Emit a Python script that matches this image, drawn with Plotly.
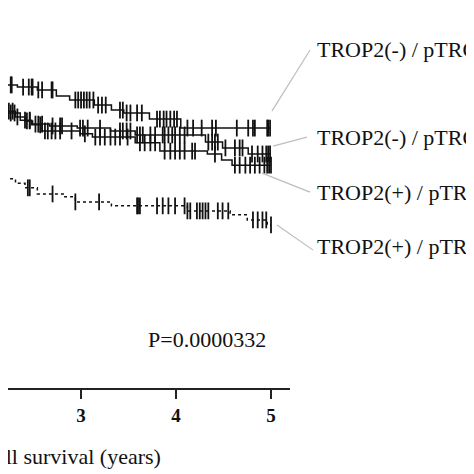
import numpy as np
import plotly.graph_objects as go

# step curves: (time in years, survival)
a_t = [2.0, 2.33, 2.54, 2.74, 2.88, 3.14, 3.32, 3.45, 3.72, 4.05, 5.0]
a_s = [0.842, 0.836, 0.828, 0.811, 0.800, 0.786, 0.772, 0.764, 0.747, 0.722, 0.722]
a_cens = [2.17, 2.22, 2.26, 2.27, 2.39, 2.45, 2.48, 2.49, 2.55, 2.59, 2.69, 2.70,
          2.94, 2.97, 3.00, 3.03, 3.06, 3.09, 3.13, 3.18, 3.22, 3.26, 3.41, 3.44,
          3.48, 3.52, 3.59, 3.64, 3.80, 3.83, 3.87, 3.90, 3.94, 3.98, 4.01, 4.12,
          4.18, 4.27, 4.38, 4.42, 4.64, 4.76, 4.81, 4.83, 4.96, 4.97, 4.99]

b_t = [2.0, 2.31, 2.41, 2.49, 2.67, 2.96, 3.31, 3.57, 4.31, 4.49, 4.76, 5.0]
b_s = [0.769, 0.753, 0.742, 0.733, 0.728, 0.722, 0.714, 0.703, 0.683, 0.667, 0.650, 0.650]
b_cens = [2.17, 2.20, 2.24, 2.28, 2.33, 2.43, 2.46, 2.52, 2.55, 2.59, 2.70, 2.78,
          2.80, 2.99, 3.02, 3.07, 3.20, 3.41, 3.44, 3.48, 3.52, 3.59, 3.62, 3.65,
          3.73, 3.78, 3.86, 3.88, 3.92, 3.96, 3.99, 4.04, 4.09, 4.34, 4.38, 4.41,
          4.44, 4.52, 4.62, 4.67, 4.70, 4.80, 4.86, 4.91, 4.95, 4.97, 4.99]

c_t = [2.0, 2.36, 2.48, 2.59, 2.99, 3.12, 3.57, 3.83, 4.33, 4.48, 4.59, 5.0]
c_s = [0.764, 0.744, 0.731, 0.714, 0.706, 0.697, 0.681, 0.658, 0.650, 0.633, 0.619, 0.619]
c_cens = [2.16, 2.19, 2.22, 2.26, 2.30, 2.41, 2.46, 2.57, 2.62, 2.65, 2.69, 2.73,
          2.78, 2.90, 3.04, 3.15, 3.20, 3.25, 3.31, 3.36, 3.41, 3.49, 3.62, 3.67,
          3.73, 3.78, 3.88, 3.94, 3.99, 4.04, 4.09, 4.17, 4.20, 4.41, 4.62, 4.67,
          4.73, 4.78, 4.83, 4.88, 4.93, 4.96, 4.98, 5.0]

d_t = [2.0, 2.31, 2.41, 2.54, 2.82, 2.94, 3.32, 4.12, 4.57, 4.75, 4.96, 5.0]
d_s = [0.581, 0.569, 0.556, 0.539, 0.531, 0.517, 0.506, 0.492, 0.481, 0.467, 0.453, 0.453]
d_cens = [2.18, 2.22, 2.44, 2.46, 2.70, 2.94, 3.19, 3.59, 3.60, 3.62, 3.80, 3.86,
          3.92, 3.99, 4.09, 4.12, 4.15, 4.22, 4.25, 4.28, 4.31, 4.34, 4.44, 4.49,
          4.55, 4.81, 4.86, 4.91, 4.95, 5.0]

labels = ["TROP2(-) / pTROP2(-)", "TROP2(-) / pTROP2(+)",
          "TROP2(+) / pTROP2(-)", "TROP2(+) / pTROP2(+)"]
p_text = "P=0.0000332"

SERIF = "Liberation Serif"
INK = "#111111"


def surv_at(t, s, x):
    idx = np.searchsorted(np.array(t), np.array(x), side="right") - 1
    return np.array(s)[idx]


fig = go.Figure()
curves = [(a_t, a_s, a_cens, "solid"), (b_t, b_s, b_cens, "solid"),
          (c_t, c_s, c_cens, "solid"), (d_t, d_s, d_cens, "dot")]
for (t, s, cens, dash), name in zip(curves, labels):
    fig.add_trace(go.Scatter(x=t, y=s, mode="lines", line_shape="hv", name=name,
                             line=dict(color=INK, width=1.5, dash=dash),
                             showlegend=False))
    fig.add_trace(go.Scatter(x=cens, y=surv_at(t, s, cens), mode="markers",
                             marker=dict(symbol="line-ns", size=12,
                                         line=dict(color=INK, width=1.8)),
                             showlegend=False, hoverinfo="skip"))

# curve labels with leader lines (paper coords)
label_y = [0.939, 0.697, 0.544, 0.392]
leaders = [((0.936, 0.769), (1.071, 0.939)),
           ((0.940, 0.672), (1.060, 0.697)),
           ((0.901, 0.597), (1.071, 0.544)),
           ((0.954, 0.453), (1.082, 0.383))]
for txt, ly, (p0, p1) in zip(labels, label_y, leaders):
    fig.add_shape(type="line", xref="paper", yref="paper",
                  x0=p0[0], y0=p0[1], x1=p1[0], y1=p1[1],
                  line=dict(color="#bdbdbd", width=1.2))
    fig.add_annotation(x=1.089, y=ly, xref="paper", yref="paper", text=txt,
                       showarrow=False, xanchor="left", yanchor="middle",
                       font=dict(family=SERIF, size=22, color=INK))

fig.add_annotation(x=4.968, y=0.136, xref="x", yref="y", text=p_text,
                   showarrow=False, xanchor="right", yanchor="middle",
                   font=dict(family=SERIF, size=22, color=INK))
fig.add_annotation(x=3.863, y=-0.19, xref="x", yref="paper",
                   text="Overall survival (years)", showarrow=False,
                   xanchor="right", yanchor="middle",
                   font=dict(family=SERIF, size=22, color=INK))

fig.update_xaxes(range=[2.231, 5.2], tickvals=[2, 3, 4, 5],
                 ticktext=["<b>2</b>", "<b>3</b>", "<b>4</b>", "<b>5</b>"],
                 ticks="outside", ticklen=9, tickwidth=1.5, tickcolor="#222",
                 showline=True, linecolor="#222", linewidth=1.5,
                 showgrid=False, zeroline=False,
                 tickfont=dict(family=SERIF, size=19, color=INK))
fig.update_yaxes(range=[0, 1], visible=False)

fig.update_layout(width=466, height=466, plot_bgcolor="white",
                  paper_bgcolor="white",
                  margin=dict(l=0, r=184, t=20, b=86))
fig.write_html("out.html")
